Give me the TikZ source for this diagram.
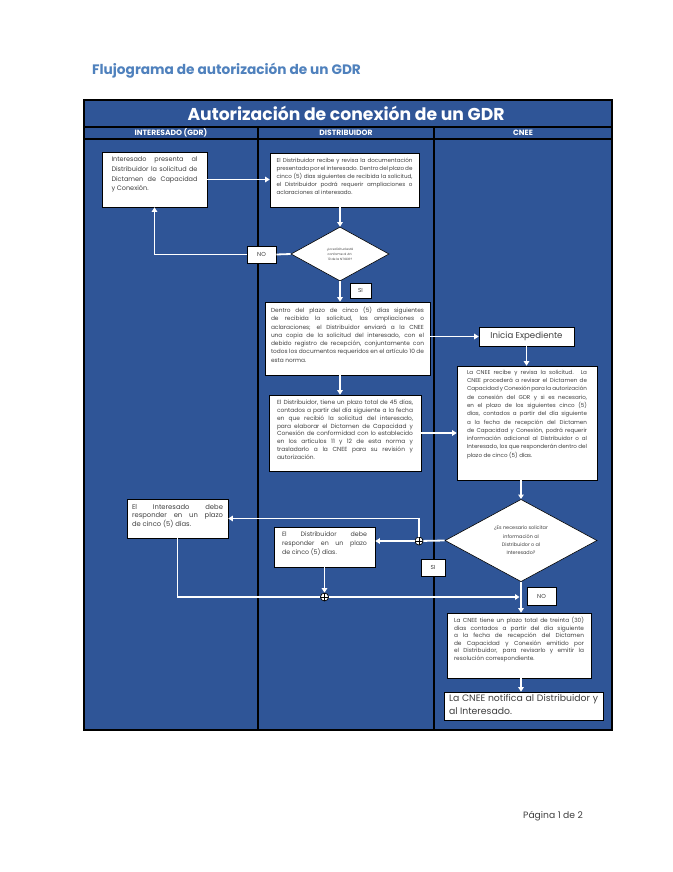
\documentclass[tikz,border=0pt]{standalone}
\usepackage{fontspec}
\setmainfont{Poppins}
\usetikzlibrary{arrows.meta,shapes.geometric,calc}
\definecolor{frameblue}{HTML}{2F5597}
\definecolor{titleblue}{HTML}{4F81BD}
\definecolor{txtgray}{HTML}{404040}
\newcommand\fsz[2]{\fontsize{#1}{#2}\selectfont\hyphenpenalty=10000\exhyphenpenalty=10000\tolerance=10000}
\newcommand\bt[3]{\parbox[c][#2pt][t]{#1pt}{#3}}
\begin{document}
\begin{tikzpicture}[x=1pt,y=-1pt,
  box/.style={draw=black, line width=0.6pt, fill=white, text=txtgray},
  flow/.style={draw=white, line width=1.8pt, -{Triangle[length=4.5pt,width=5.5pt]}},
  wline/.style={draw=white, line width=1.8pt},
  lab/.style={draw=black, fill=white, line width=0.6pt, font=\fsz{5.8}{6}, text=txtgray, inner sep=0pt},
  junc/.style={circle, draw=black, fill=white, line width=0.7pt, minimum size=8pt, inner sep=0pt,
    path picture={\draw[black,line width=0.7pt] (path picture bounding box.north) -- (path picture bounding box.south) (path picture bounding box.west) -- (path picture bounding box.east);}},
  hdr/.style={text=white, font=\bfseries\fsz{7.6}{8}},
]
\useasboundingbox (0,0) rectangle (672,872);
\fill[white] (0,0) rectangle (672,872);

\node[anchor=west, text=titleblue, font=\bfseries\fsz{13.7}{15}, inner sep=0pt] (ttl) at (92,71) {Flujograma de autorización de un GDR};

% frame
\draw[fill=frameblue, draw=black, line width=1.5pt] (84,100) rectangle (612,730);
\draw[black, line width=1.2pt] (84,127) -- (612,127);
\draw[black, line width=1.2pt] (84,139) -- (612,139);
\draw[black, line width=1.8pt] (258,127) -- (258,730);
\draw[black, line width=1.8pt] (434,127) -- (434,730);
\node[text=white, font=\bfseries\fsz{17.2}{18}, inner sep=0pt] (head) at (346,113.5) {Autorización de conexión de un GDR};
\node[hdr] (h1) at (171,133.2) {INTERESADO (GDR)};
\node[hdr] (h2) at (346,133.2) {DISTRIBUIDOR};
\node[hdr] (h3) at (523,133.2) {CNEE};

% boxes
\node[box, font=\fsz{6.5}{9.7}, inner xsep=9.5pt, inner ysep=5pt] (i1) at (154.5,179.5)
  {\bt{86}{45}{Interesado presenta al Distribuidor la solicitud de Dictamen de Capacidad\linebreak y Conexión.}};
\node[box, font=\fsz{5.6}{8}, inner xsep=6.5pt, inner ysep=5pt] (d1) at (344.5,180)
  {\bt{136}{44}{El Distribuidor recibe y revisa la documentación presentada por el interesado. Dentro del plazo de cinco (5) días siguientes de recibida la solicitud, el Distribuidor podrá requerir ampliaciones o aclaraciones al interesado.}};
\node[diamond, draw=black, line width=0.6pt, fill=white, text=txtgray, minimum width=98pt, minimum height=54pt, inner sep=0pt, align=center, font=\fsz{3.1}{5}] (q1) at (340,254)
  {¿La solicitud está\\conforme al Art.\\10 de la NTGDR?};
\node[lab, minimum width=29pt, minimum height=17pt] (no1) at (261.5,254.5) {NO};
\node[lab, minimum width=21pt, minimum height=15pt] (si1) at (360.5,290.5) {SI};
\node[box, font=\fsz{5.85}{8.3}, inner xsep=6pt, inner ysep=5pt] (d2) at (347.5,338.5)
  {\bt{153}{63}{Dentro del plazo de cinco (5) días siguientes de recibida la solicitud, las ampliaciones o aclaraciones; el Distribuidor enviará a la CNEE una copia de la solicitud del interesado, con el debido registro de recepción, conjuntamente con todos los documentos requeridos en el artículo 10 de esta norma.}};
\node[box, font=\fsz{8.6}{10}, minimum width=95pt, minimum height=19pt, inner sep=0pt] (ie) at (526.5,336.5) {Inicia Expediente};
\node[box, font=\fsz{5.6}{8.3}, inner xsep=10pt, inner ysep=4pt] (c1) at (527,423)
  {\bt{120}{106}{La CNEE recibe y revisa la solicitud. La CNEE procederá a revisar el Dictamen de Capacidad y Conexión para la autorización de conexión del GDR y si es necesario, en el plazo de los siguientes cinco (5) días, contados a partir del día siguiente a la fecha de recepción del Dictamen de Capacidad y Conexión, podrá requerir información adicional al Distribuidor o al Interesado, los que responderán dentro del plazo de cinco (5) días.}};
\node[box, font=\fsz{5.9}{7.8}, inner xsep=8pt, inner ysep=5pt] (d3) at (345,433)
  {\bt{136}{66}{El Distribuidor, tiene un plazo total de 45 días, contados a partir del día siguiente a la fecha en que recibió la solicitud del interesado, para elaborar el Dictamen de Capacidad y Conexión de conformidad con lo establecido en los artículos 11 y 12 de esta norma y trasladarlo a la CNEE para su revisión y autorización.}};
\node[diamond, draw=black, line width=0.6pt, fill=white, text=txtgray, minimum width=152pt, minimum height=77pt, inner sep=0pt, align=center, font=\fsz{4.9}{8.3}] (q2) at (521,540.5)
  {¿Es necesario solicitar\\información al\\Distribuidor o al\\Interesado?};
\node[box, font=\fsz{6.8}{8.7}, inner xsep=5pt, inner ysep=5pt] (i2) at (177.5,518.5)
  {\bt{91}{29}{El Interesado debe responder en un plazo de cinco (5) días.}};
\node[box, font=\fsz{6.3}{8.7}, inner xsep=8pt, inner ysep=5pt] (d4) at (324.5,547)
  {\bt{85}{30}{El Distribuidor debe responder en un plazo de cinco (5) días.}};
\node[lab, minimum width=24pt, minimum height=17pt] (si2) at (433,567.5) {SI};
\node[lab, minimum width=29pt, minimum height=18pt] (no2) at (541.5,596) {NO};
\node[box, font=\fsz{5.8}{7.6}, inner xsep=7pt, inner ysep=4pt] (c30) at (519,645.5)
  {\bt{130}{57}{La CNEE tiene un plazo total de treinta (30) días contados a partir del día siguiente a la fecha de recepción del Dictamen de Capacidad y Conexión emitido por el Distribuidor, para revisarlo y emitir la resolución correspondiente.}};
\node[box, font=\fsz{9.3}{13}, inner xsep=5pt, inner ysep=2pt] (fin) at (523.5,706)
  {\bt{149}{24}{La CNEE notifica al Distribuidor y al Interesado.}};

\node[junc] (j1) at (419,541) {};
\node[junc] (j2) at (324.5,597) {};

% connectors
\draw[flow] (i1.east) -- (i1.east -| d1.west);
\draw[flow] (d1.south -| q1.north) -- (q1.north);
\draw[wline] (q1.west) -- (no1.east);
\draw[flow] (no1.west) -| (i1.south);
\draw[flow] (q1.south) -- (q1.south |- d2.north);
\draw[flow] (d2.east |- ie.west) -- (ie.west);
\draw[flow] (ie.south) -- (ie.south |- c1.north);
\draw[flow] (d2.south -| q1.south) -- (q1.south |- d3.north);
\draw[flow] (d3.east) -- (d3.east -| c1.west);
\draw[flow] (c1.south -| q2.north) -- (q2.north);
\draw[wline] (q2.west) -- (j1);
\draw[flow] (j1) -- (j1 -| d4.east);
\draw[flow] (j1.north) |- (i2.east);
\draw[flow] (q2.south) -- (q2.south |- c30.north);
\draw[wline] (i2.south) |- (j2.west);
\draw[flow, shorten >=1.5pt] (j2.east) -- (j2 -| q2.south);
\draw[flow] (d4.south) -- (j2.north);
\draw[flow] (c30.south -| q2.south) -- (fin.north -| q2.south);

\node[text=txtgray, font=\fsz{9.2}{10}, inner sep=0pt] (pg) at (553,816) {Página 1 de 2};
\end{tikzpicture}
\end{document}
